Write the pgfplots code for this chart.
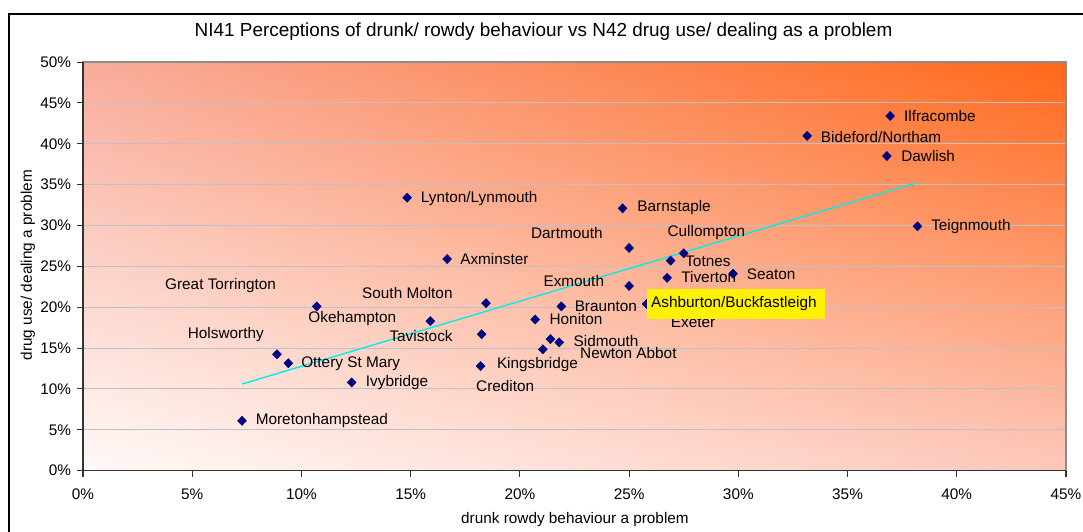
\documentclass[border=0pt]{standalone}
\usepackage{fontspec}
\setmainfont{Liberation Sans}
\usepackage{pgfplots}
\usepackage{pgfplotstable}
\pgfplotsset{compat=1.18}
\usetikzlibrary{shadings}
\definecolor{navyc}{RGB}{0,0,128}
\definecolor{bgUL}{RGB}{249,172,155}
\definecolor{bgUR}{RGB}{255,104,24}
\definecolor{bgLL}{RGB}{255,250,248}
\definecolor{bgLR}{RGB}{253,200,188}
\definecolor{gridc}{RGB}{192,192,200}
\definecolor{trend}{RGB}{0,235,235}
\newcommand{\lf}{\fontsize{11.5}{13}\selectfont}
\newcommand{\lab}[3]{\node[anchor=west,inner sep=0pt,font=\lf] at (axis cs:#1,#2) {#3};}

\pgfplotstableread{
x y
36.95 43.4
33.15 40.96
36.8 38.5
38.2 29.9
14.84 33.4
24.7 32.1
25.0 27.25
27.5 26.6
26.9 25.7
16.67 25.9
29.76 24.1
26.74 23.6
25.0 22.6
25.8 20.4
27.3 20.3
21.9 20.1
10.7 20.1
18.45 20.5
15.9 18.3
18.25 16.7
20.7 18.5
21.8 15.7
21.05 14.85
18.2 12.8
21.4 16.1
8.88 14.25
9.4 13.15
12.3 10.8
7.28 6.1
}\towns

\begin{document}
\begin{tikzpicture}
\useasboundingbox (0pt,0pt) rectangle (812.25pt,399pt);
\begin{scope}
\clip (0pt,0pt) rectangle (812.25pt,399pt);
\draw[line width=1.3pt,black] (6.6pt,-20pt) rectangle (830pt,388.7pt);
\end{scope}
\begin{axis}[
  at={(62.25pt,45.975pt)}, anchor=south west,
  scale only axis, width=737.25pt, height=306.5pt,
  xmin=0, xmax=45, ymin=0, ymax=50,
  xtick={0,5,...,45}, ytick={0,5,...,50},
  /pgf/number format/assume math mode=true,
  xticklabel={\pgfmathprintnumber{\tick}\%},
  yticklabel={\pgfmathprintnumber{\tick}\%},
  ticklabel style={font=\lf},
  tick pos=left, tick align=outside, major tick length=4.5pt,
  tick style={black!80, line width=0.8pt},
  ymajorgrids, grid style={gridc, line width=0.8pt},
  axis line style={draw=black!45, line width=1pt},
  axis background/.style={lower left=bgLL, upper left=bgUL, upper right=bgUR, lower right=bgLR},
  xticklabel style={yshift=-5.5pt},
  yticklabel style={xshift=-1pt},
  title={NI41 Perceptions of drunk/ rowdy behaviour vs N42 drug use/ dealing as a problem},
  title style={font=\fontsize{14.2}{16}\selectfont, at={(rel axis cs:0.4685,1.054)}, anchor=center, inner sep=0pt},
  xlabel={drunk rowdy behaviour a problem},
  xlabel style={font=\lf, at={(rel axis cs:0.5005,-0.1206)}, anchor=center, inner sep=0pt},
  ylabel={drug use/ dealing a problem},
  ylabel style={font=\lf, at={(rel axis cs:-0.056,0.503)}, anchor=center, inner sep=0pt},
  clip=false,
]
\addplot[trend, line width=1pt] coordinates {(7.28,10.6) (38.2,35.25)};
\addplot[only marks, mark=diamond*, mark size=3.4pt, mark options={xscale=1.3, fill=navyc, draw=navyc}] table[x=x,y=y] {\towns};
\draw[black!80, line width=1.1pt] (rel axis cs:0,1) -- (rel axis cs:0,0) -- (rel axis cs:1,0);
\coordinate (bxa) at (axis cs:25.82,18.56);
\coordinate (bxb) at (axis cs:33.97,22.23);
\coordinate (bxt) at (axis cs:26.0,20.4);
\lab{37.58}{43.4}{Ilfracombe}
\lab{33.77}{40.86}{Bideford/Northam}
\lab{37.45}{38.5}{Dawlish}
\lab{38.82}{29.9}{Teignmouth}
\lab{15.46}{33.36}{Lynton/Lynmouth}
\lab{25.37}{32.14}{Barnstaple}
\lab{20.5}{29.1}{Dartmouth}
\lab{26.75}{29.1}{Cullompton}
\lab{27.56}{25.65}{Totnes}
\lab{17.26}{25.9}{Axminster}
\lab{30.38}{24.06}{Seaton}
\lab{27.38}{23.7}{Tiverton}
\lab{21.07}{23.2}{Exmouth}
\lab{26.9}{18.2}{Exeter}
\lab{22.5}{20.15}{Braunton}
\lab{3.75}{22.7}{Great Torrington}
\lab{12.77}{21.7}{South Molton}
\lab{10.31}{18.56}{Okehampton}
\lab{14.02}{16.48}{Tavistock}
\lab{21.35}{18.56}{Honiton}
\lab{22.45}{15.83}{Sidmouth}
\lab{22.75}{14.36}{Newton Abbot}
\lab{18.94}{12.97}{Kingsbridge}
\lab{17.99}{10.36}{Crediton}
\lab{4.79}{16.6}{Holsworthy}
\lab{9.98}{13.14}{Ottery St Mary}
\lab{12.94}{10.8}{Ivybridge}
\lab{7.9}{6.08}{Moretonhampstead}
\end{axis}
\fill[yellow] (bxa) rectangle (bxb);
\node[anchor=west,inner sep=0pt,font=\lf] at (bxt) {Ashburton/Buckfastleigh};
\end{tikzpicture}
\end{document}
